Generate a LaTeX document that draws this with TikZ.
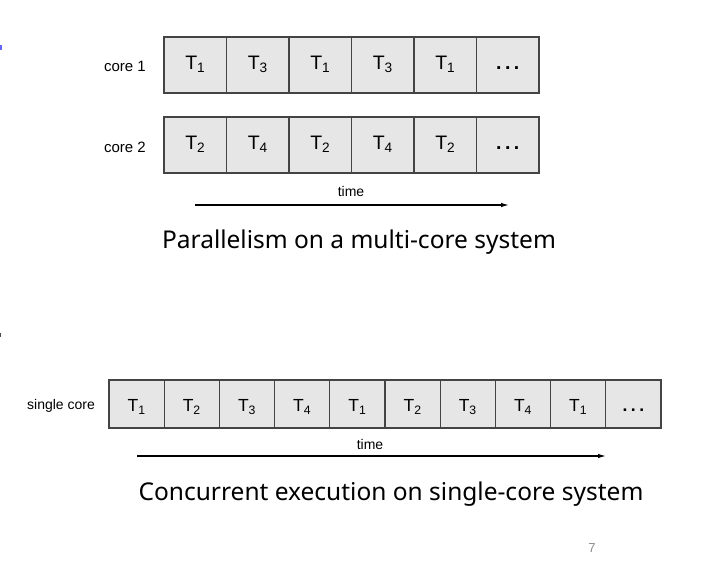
\documentclass[tikz,border=0pt]{standalone}
\usepackage{fontspec}
\setmainfont{Liberation Sans}
\newfontfamily\capfont{Noto Sans}
\usetikzlibrary{arrows.meta}
\definecolor{cellfill}{HTML}{E6E6E6}
\definecolor{cellline}{HTML}{444444}
\newcommand{\Tn}[1]{T\textsubscript{#1}}
\newcommand{\mydots}{{\bfseries .\hspace{3.5pt}.\hspace{3.5pt}.}}
\tikzset{
  cellbig/.style={draw=cellline, fill=cellfill, line width=1.1pt, minimum width=62.5pt, minimum height=56pt, inner sep=0pt, text height=14.3pt, text depth=5.7pt, font=\fontsize{19.5}{21}\selectfont},
  cellsmall/.style={draw=cellline, fill=cellfill, line width=1.1pt, minimum width=55.2pt, minimum height=48pt, inner sep=0pt, text height=17.5pt, text depth=2.1pt, font=\fontsize{17.5}{19}\selectfont},
  lbl/.style={inner sep=0pt, font=\fontsize{15}{17}\selectfont},
  timelbl/.style={inner sep=0pt, font=\fontsize{14}{16}\selectfont},
  caption/.style={inner sep=0pt, font=\capfont\fontsize{24.5}{27}\selectfont},
  timearrow/.style={line width=1.2pt, -{Latex[length=8pt,width=4.5pt]}},
}
\begin{document}
\begin{tikzpicture}[x=1pt,y=-1pt]
\useasboundingbox (0,0) rectangle (704,564);
% bullet remnants at left edge
\fill[blue!60!white] (0,45) rectangle (1.6,50);
\fill[black!70] (0,333) rectangle (1.4,337);
% top rows
\foreach \t [count=\i from 0] in {\Tn{1},\Tn{3},\Tn{1},\Tn{3},\Tn{1},\mydots} {
  \node[cellbig] (a\i) at ({164+62.5*(\i+0.5)},65) {\t};
}
\foreach \t [count=\i from 0] in {\Tn{2},\Tn{4},\Tn{2},\Tn{4},\Tn{2},\mydots} {
  \node[cellbig] (b\i) at ({164+62.5*(\i+0.5)},145) {\t};
}
\node[lbl] (core1) at (125,66) {core 1};
\node[lbl] (core2) at (125,147) {core 2};
\coordinate (ta0) at (195,205);
\coordinate (ta1) at (509,205);
\draw[timearrow] (ta0) -- (ta1);
\node[timelbl] (time1) at (351,191) {time};
\node[caption] (cap1) at (359,242) {Parallelism on a multi-core system};
% bottom row
\foreach \t [count=\i from 0] in {\Tn{1},\Tn{2},\Tn{3},\Tn{4},\Tn{1},\Tn{2},\Tn{3},\Tn{4},\Tn{1},\mydots} {
  \node[cellsmall] (c\i) at ({109+55.2*(\i+0.5)},404) {\t};
}
\node[timelbl] (single) at (61,406) {single core};
\coordinate (tb0) at (137,456);
\coordinate (tb1) at (606,456);
\draw[timearrow] (tb0) -- (tb1);
\node[timelbl] (time2) at (370,444) {time};
\node[caption] (cap2) at (391,494) {Concurrent execution on single-core system};
\node[inner sep=0pt, text=black!45, font=\fontsize{13}{15}\selectfont] (page) at (592,548) {7};
\end{tikzpicture}
\end{document}
